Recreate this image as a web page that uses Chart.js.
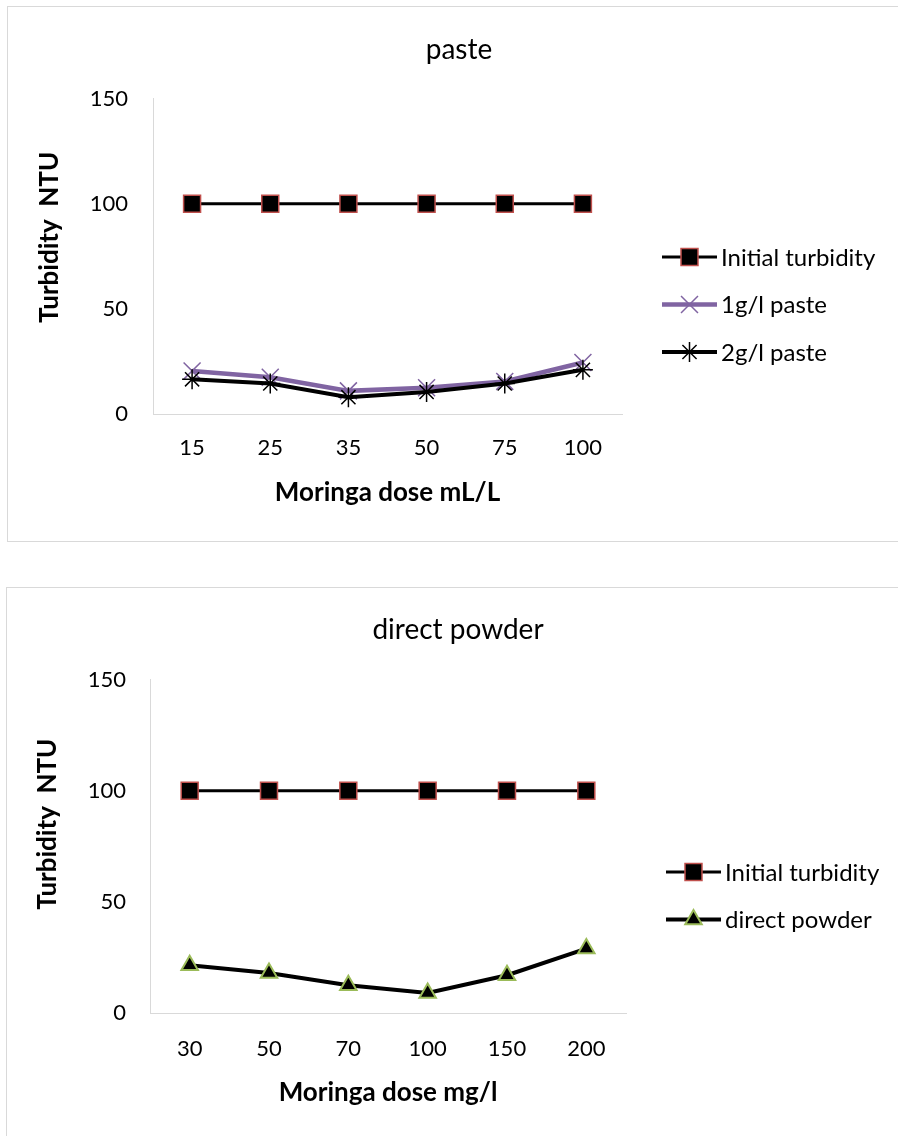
<!DOCTYPE html>
<html>
<head>
<meta charset="utf-8">
<script src="https://cdn.jsdelivr.net/npm/chart.js@4/dist/chart.umd.min.js"></script>
<style>
  html, body { margin: 0; padding: 0; background: #fff; width: 898px; height: 1136px; overflow: hidden; }
  .box { position: absolute; border: 1px solid #d9d9d9; background: #fff; }
  canvas { display: block; }
</style>
</head>
<body>
<div class="box" style="left:7px; top:6px; width:902px; height:534px;">
  <canvas id="pasteChart" width="902" height="534"></canvas>
</div>
<div class="box" style="left:6px; top:587px; width:902px; height:558px;">
  <canvas id="powderChart" width="902" height="558"></canvas>
</div>
<script>
// x categories
const pasteDoses = ['15', '25', '35', '50', '75', '100'];
const powderDoses = ['30', '50', '70', '100', '150', '200'];

// turbidity values (NTU)
const initialPaste = [100, 100, 100, 100, 100, 100];
const paste1g = [20.5, 17.5, 11, 12.5, 15.5, 24.5];
const paste2g = [16.5, 14.5, 8, 10.5, 14.5, 21];
const initialPowder = [100, 100, 100, 100, 100, 100];
const directPowder = [21.5, 18, 12.5, 9, 17, 29];

const yTicks = [0, 50, 100, 150];

Chart.defaults.font.family = 'Lato, "Open Sans", sans-serif';
Chart.defaults.color = '#000';

// legend on the right: line sample with marker, drawn next to the plot
const sideLegend = {
  id: 'sideLegend',
  afterDraw(chart, args, opts) {
    const ctx = chart.ctx;
    const x0 = chart.chartArea.right + opts.gap;
    chart.data.datasets.forEach((ds, i) => {
      const y = opts.top + i * opts.spacing;
      ctx.save();
      ctx.strokeStyle = ds.borderColor;
      ctx.lineWidth = ds.borderWidth;
      ctx.beginPath();
      ctx.moveTo(x0, y);
      ctx.lineTo(x0 + opts.length, y);
      ctx.stroke();
      ctx.fillStyle = ds.pointBackgroundColor;
      ctx.strokeStyle = ds.pointBorderColor;
      ctx.lineWidth = ds.pointBorderWidth;
      Chart.helpers.drawPoint(ctx, {
        pointStyle: ds.pointStyle, radius: ds.pointRadius,
        borderWidth: ds.pointBorderWidth, rotation: 0
      }, x0 + opts.length / 2, y);
      ctx.fillStyle = '#000';
      ctx.font = '24px Lato';
      ctx.textBaseline = 'middle';
      ctx.textAlign = 'left';
      ctx.fillText(ds.label, x0 + opts.length + 4, y + 1);
      ctx.restore();
    });
  }
};

function initialSeries(data) {
  return {
    label: 'Initial turbidity', data: data, order: 2,
    borderColor: '#000', borderWidth: 3,
    pointStyle: 'rect', pointRadius: 12,
    pointBackgroundColor: '#000', pointBorderColor: '#c0504d', pointBorderWidth: 1.5
  };
}

function makeChart(id, cfg) {
  new Chart(document.getElementById(id), {
    type: 'line',
    data: { labels: cfg.labels, datasets: cfg.datasets },
    options: {
      responsive: false,
      animation: false,
      events: [],
      layout: { padding: { left: 0, top: 0, right: 0, bottom: cfg.padBottom } },
      elements: { line: { tension: 0 } },
      plugins: {
        legend: { display: false },
        tooltip: { enabled: false },
        title: {
          display: true, text: cfg.title, color: '#000',
          font: { size: 28, weight: 'normal' },
          padding: { top: cfg.titleTop, bottom: cfg.titleBottom }
        },
        sideLegend: { gap: 40, length: 55, top: cfg.legendTop, spacing: 47.5 }
      },
      scales: {
        x: {
          offset: true,
          afterFit: s => { s.height = cfg.xHeight; },
          grid: { display: false, drawTicks: false },
          border: { display: true, color: '#d9d9d9', width: 1 },
          ticks: { padding: cfg.xTickPad, color: '#000', font: { size: 22 } },
          title: {
            display: true, text: cfg.xTitle, color: '#000',
            font: { size: 26, weight: 'bold' },
            padding: { top: 0, bottom: 4 }
          }
        },
        y: {
          min: 0, max: 150,
          afterBuildTicks: s => { s.ticks = yTicks.map(v => ({ value: v })); },
          afterFit: s => { s.width = cfg.yWidth; },
          grid: { display: false, drawTicks: false },
          border: { display: true, color: '#d9d9d9', width: 1 },
          ticks: { padding: cfg.yTickPad, color: '#000', font: { size: 22 } },
          title: {
            display: true, text: cfg.yTitle, color: '#000',
            font: { size: 26, weight: 'bold' },
            padding: { top: cfg.yTitleTop, bottom: 0 }
          }
        },
        // empty axis on the right that keeps room for the legend
        side: {
          position: 'right', min: 0, max: 1,
          afterFit: s => { s.width = cfg.sideWidth; },
          grid: { display: false, drawTicks: false },
          border: { display: false },
          ticks: { display: false }
        }
      }
    },
    plugins: [sideLegend]
  });
}

makeChart('pasteChart', {
  title: 'paste',
  labels: pasteDoses,
  xTitle: 'Moringa dose mL/L',
  yTitle: '      Turbidity  NTU',
  datasets: [
    initialSeries(initialPaste),
    {
      label: '1g/l paste', data: paste1g, order: 1,
      borderColor: '#8064a2', borderWidth: 4.5,
      pointStyle: 'crossRot', pointRadius: 12,
      pointBackgroundColor: '#8064a2', pointBorderColor: '#8064a2', pointBorderWidth: 1.5
    },
    {
      label: '2g/l paste', data: paste2g, order: 0,
      borderColor: '#000', borderWidth: 4,
      pointStyle: 'star', pointRadius: 10,
      pointBackgroundColor: '#000', pointBorderColor: '#000', pointBorderWidth: 1.5
    }
  ],
  sideWidth: 288, padBottom: 29,
  titleTop: 26, titleBottom: 32,
  xHeight: 98, xTickPad: 21,
  yWidth: 145, yTickPad: 25, yTitleTop: 26,
  legendTop: 250
});

makeChart('powderChart', {
  title: 'direct powder',
  labels: powderDoses,
  xTitle: 'Moringa dose mg/l',
  yTitle: '       Turbidity  NTU',
  datasets: [
    initialSeries(initialPowder),
    {
      label: 'direct powder', data: directPowder, order: 0,
      borderColor: '#000', borderWidth: 4,
      pointStyle: 'triangle', pointRadius: 9.5,
      pointBackgroundColor: '#000', pointBorderColor: '#9bbb59', pointBorderWidth: 2
    }
  ],
  sideWidth: 283, padBottom: 34,
  titleTop: 25, titleBottom: 33,
  xHeight: 99, xTickPad: 23,
  yWidth: 143, yTickPad: 24, yTitleTop: 25,
  legendTop: 284
});
</script>
</body>
</html>
